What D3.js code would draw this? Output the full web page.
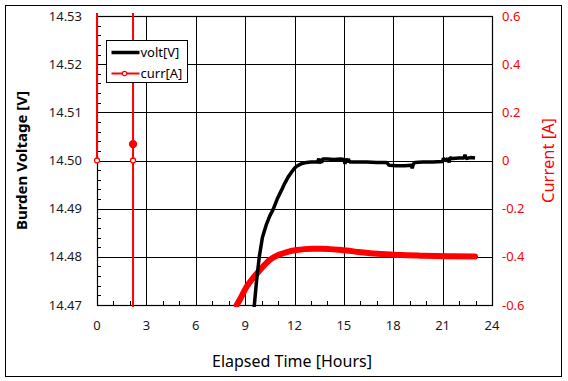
<!DOCTYPE html>
<html>
<head>
<meta charset="utf-8">
<script src="https://cdn.jsdelivr.net/npm/d3@7"></script>
<style>
  body { margin: 0; background: #fff; }
  svg { font-family: "Noto Sans", "Open Sans", sans-serif; }
</style>
</head>
<body>
<div id="chart"></div>
<script>
// ---- data ----
const xTicks = [0, 3, 6, 9, 12, 15, 18, 21, 24];
const voltTicks = [14.47, 14.48, 14.49, 14.50, 14.51, 14.52, 14.53];
const currTicks = [-0.6, -0.4, -0.2, 0, 0.2, 0.4, 0.6];

// burden voltage [V] vs elapsed hours
const voltT = [9.50, 9.56, 9.70, 9.86, 10.05, 10.30, 10.50, 10.71, 10.95, 11.22, 11.40, 11.62, 11.85, 12.00, 12.13,
  12.40, 12.74, 13.00, 13.40, 13.48, 13.52, 13.60, 13.65, 13.70, 14.00, 14.40, 14.80, 15.00, 15.07, 15.12, 15.20,
  15.27, 15.35, 15.80, 16.40, 17.00, 17.60, 17.75, 18.20, 18.70, 19.10, 19.15, 19.22, 19.30, 19.80, 20.40, 21.00,
  21.05, 21.15, 21.30, 21.40, 21.45, 21.60, 22.00, 22.30, 22.36, 22.42, 22.70, 22.97];
const voltV = [14.4680, 14.4700, 14.4752, 14.4800, 14.4840, 14.4868, 14.4885, 14.4899, 14.4920, 14.4939, 14.4952, 14.4966, 14.4977, 14.4984, 14.4988,
  14.4993, 14.4996, 14.4997, 14.4997, 14.5004, 14.4994, 14.5003, 14.4995, 14.5003, 14.5003, 14.5002, 14.5003, 14.5002, 14.4993, 14.5004, 14.4996,
  14.5003, 14.4997, 14.4997, 14.4997, 14.4996, 14.4996, 14.4990, 14.4989, 14.4989, 14.4990, 14.4984, 14.4992, 14.4996, 14.4997, 14.4997, 14.4998,
  14.5005, 14.4999, 14.5004, 14.4996, 14.5006, 14.5004, 14.5005, 14.5005, 14.5012, 14.5004, 14.5006, 14.5005];

// current [A]: early jumps (mostly off scale), then the recovery curve
const jumpT = [0, 0, 2.19, 2.19, 2.19, 2.19, 8.30, 8.49];
const jumpA = [0, 30, 30, 0.068, 0, -30, -30, -0.60];
const markT = [0, 2.19, 2.19];
const markA = [0, 0, 0.068];
const markFilled = [false, false, true];

const currT = [8.49, 8.70, 9.09, 9.50, 9.90, 10.50, 10.90, 11.32, 11.70, 12.13, 12.60, 13.14, 13.60, 14.16, 14.70,
  15.17, 15.90, 16.59, 17.30, 18.00, 18.80, 19.60, 20.60, 21.60, 22.97];
const currA = [-0.600, -0.575, -0.524, -0.486, -0.455, -0.413, -0.396, -0.385, -0.377, -0.372, -0.368, -0.366, -0.366, -0.368, -0.371,
  -0.374, -0.380, -0.385, -0.388, -0.391, -0.393, -0.395, -0.397, -0.398, -0.399];

// ---- layout ----
const width = 568, height = 381;
const plot = { left: 97, right: 492, top: 16, bottom: 305 };
const red = '#ff0000';

const svg = d3.select('#chart').append('svg')
  .attr('width', width)
  .attr('height', height);

svg.append('rect')
  .attr('x', 5.5).attr('y', 5.5)
  .attr('width', 556).attr('height', 371)
  .attr('fill', '#fff').attr('stroke', '#000');

const x = d3.scaleLinear().domain([0, 24]).range([plot.left, plot.right]);
const yV = d3.scaleLinear().domain([14.47, 14.53]).range([plot.bottom, plot.top]);
const yA = d3.scaleLinear().domain([-0.6, 0.6]).range([plot.bottom, plot.top]);

// grid
const grid = svg.append('g').attr('stroke', '#000').attr('stroke-width', 1);
grid.selectAll('.gx').data(xTicks.slice(1, -1)).join('line')
  .attr('x1', d => Math.round(x(d)) + 0.5).attr('x2', d => Math.round(x(d)) + 0.5)
  .attr('y1', plot.top).attr('y2', plot.bottom);
grid.selectAll('.gy').data(voltTicks.slice(1, -1)).join('line')
  .attr('x1', plot.left).attr('x2', plot.right)
  .attr('y1', d => Math.round(yV(d)) + 0.5).attr('y2', d => Math.round(yV(d)) + 0.5);

// minor ticks (inside)
const minorX = d3.range(0, 25, 1).filter(d => d % 3 !== 0);
grid.selectAll('.mx').data(minorX).join('line')
  .attr('x1', d => Math.round(x(d)) + 0.5).attr('x2', d => Math.round(x(d)) + 0.5)
  .attr('y1', plot.bottom).attr('y2', plot.bottom - 4);
const minorY = d3.range(0, 31).map(i => 14.47 + i * 0.002).filter((d, i) => i % 5 !== 0);
grid.selectAll('.my').data(minorY).join('line')
  .attr('x1', plot.left).attr('x2', plot.left + 4)
  .attr('y1', d => Math.round(yV(d)) + 0.5).attr('y2', d => Math.round(yV(d)) + 0.5);

// plot frame
svg.append('rect')
  .attr('x', plot.left + 0.5).attr('y', plot.top + 0.5)
  .attr('width', plot.right - plot.left).attr('height', plot.bottom - plot.top)
  .attr('fill', 'none').attr('stroke', '#000').attr('stroke-width', 1.2);

// axes labels
const tickFont = 13;
svg.append('g').selectAll('text').data(voltTicks).join('text')
  .attr('x', plot.left - 15).attr('y', d => yV(d))
  .attr('dy', '0.35em').attr('text-anchor', 'end')
  .attr('font-size', tickFont).attr('fill', '#1a1a1a')
  .text(d => d.toFixed(2));
svg.append('g').selectAll('text').data(xTicks).join('text')
  .attr('x', d => x(d)).attr('y', 325)
  .attr('dy', '0.35em').attr('text-anchor', 'middle')
  .attr('font-size', tickFont).attr('fill', '#1a1a1a')
  .text(d => d);
svg.append('g').selectAll('text').data(currTicks).join('text')
  .attr('x', plot.right + 10).attr('y', d => yA(d))
  .attr('dy', '0.35em').attr('text-anchor', 'start')
  .attr('font-size', tickFont).attr('fill', red)
  .text(d => d === 0 ? '0' : d.toFixed(1));

svg.append('text')
  .attr('transform', `translate(22,${(plot.top + plot.bottom) / 2}) rotate(-90)`)
  .attr('text-anchor', 'middle').attr('dy', '0.35em')
  .attr('font-size', 15).attr('font-weight', 'bold')
  .text('Burden Voltage [V]');
svg.append('text')
  .attr('transform', `translate(548,${(plot.top + plot.bottom) / 2}) rotate(-90)`)
  .attr('text-anchor', 'middle').attr('dy', '0.35em')
  .attr('font-size', 16.5).attr('fill', red)
  .text('Current [A]');
svg.append('text')
  .attr('x', 292).attr('y', 361)
  .attr('text-anchor', 'middle').attr('dy', '0.35em')
  .attr('font-size', 16)
  .text('Elapsed Time [Hours]');

// data
svg.append('clipPath').attr('id', 'clip')
  .append('rect')
  .attr('x', plot.left - 3).attr('y', plot.top - 3)
  .attr('width', plot.right - plot.left + 6).attr('height', plot.bottom - plot.top + 5);
const data = svg.append('g').attr('clip-path', 'url(#clip)');

const jumpLine = d3.line().x(i => x(jumpT[i])).y(i => yA(jumpA[i]));
data.append('path')
  .attr('d', jumpLine(d3.range(jumpT.length)))
  .attr('fill', 'none').attr('stroke', red).attr('stroke-width', 2);
data.selectAll('.mk').data(d3.range(markT.length)).join('circle')
  .attr('cx', i => x(markT[i])).attr('cy', i => yA(markA[i]))
  .attr('r', i => markFilled[i] ? 3.5 : 2.5)
  .attr('fill', i => markFilled[i] ? red : '#fff')
  .attr('stroke', red).attr('stroke-width', 1.3);

const currLine = d3.line().x(i => x(currT[i])).y(i => yA(currA[i])).curve(d3.curveMonotoneX);
data.append('path')
  .attr('d', currLine(d3.range(currT.length)))
  .attr('fill', 'none').attr('stroke', red).attr('stroke-width', 6)
  .attr('stroke-linecap', 'round');

const voltLine = d3.line().x(i => x(voltT[i])).y(i => yV(voltV[i]));
data.append('path')
  .attr('d', voltLine(d3.range(voltT.length)))
  .attr('fill', 'none').attr('stroke', '#000').attr('stroke-width', 3.5)
  .attr('stroke-linejoin', 'bevel');

// legend
const lg = svg.append('g').attr('transform', 'translate(106.5,40.5)');
lg.append('rect').attr('width', 81).attr('height', 42)
  .attr('fill', '#fff').attr('stroke', '#000');
lg.append('line').attr('x1', 5).attr('x2', 33).attr('y1', 12).attr('y2', 12)
  .attr('stroke', '#000').attr('stroke-width', 3.5);
lg.append('text').attr('x', 34).attr('y', 12).attr('dy', '0.35em')
  .attr('font-size', 13).text('volt[V]');
lg.append('line').attr('x1', 5).attr('x2', 33).attr('y1', 33).attr('y2', 33)
  .attr('stroke', red).attr('stroke-width', 2);
lg.append('circle').attr('cx', 18).attr('cy', 33).attr('r', 2.2)
  .attr('fill', '#fff').attr('stroke', red).attr('stroke-width', 1.2);
lg.append('text').attr('x', 34).attr('y', 33).attr('dy', '0.35em')
  .attr('font-size', 13).text('curr[A]');
</script>
</body>
</html>
